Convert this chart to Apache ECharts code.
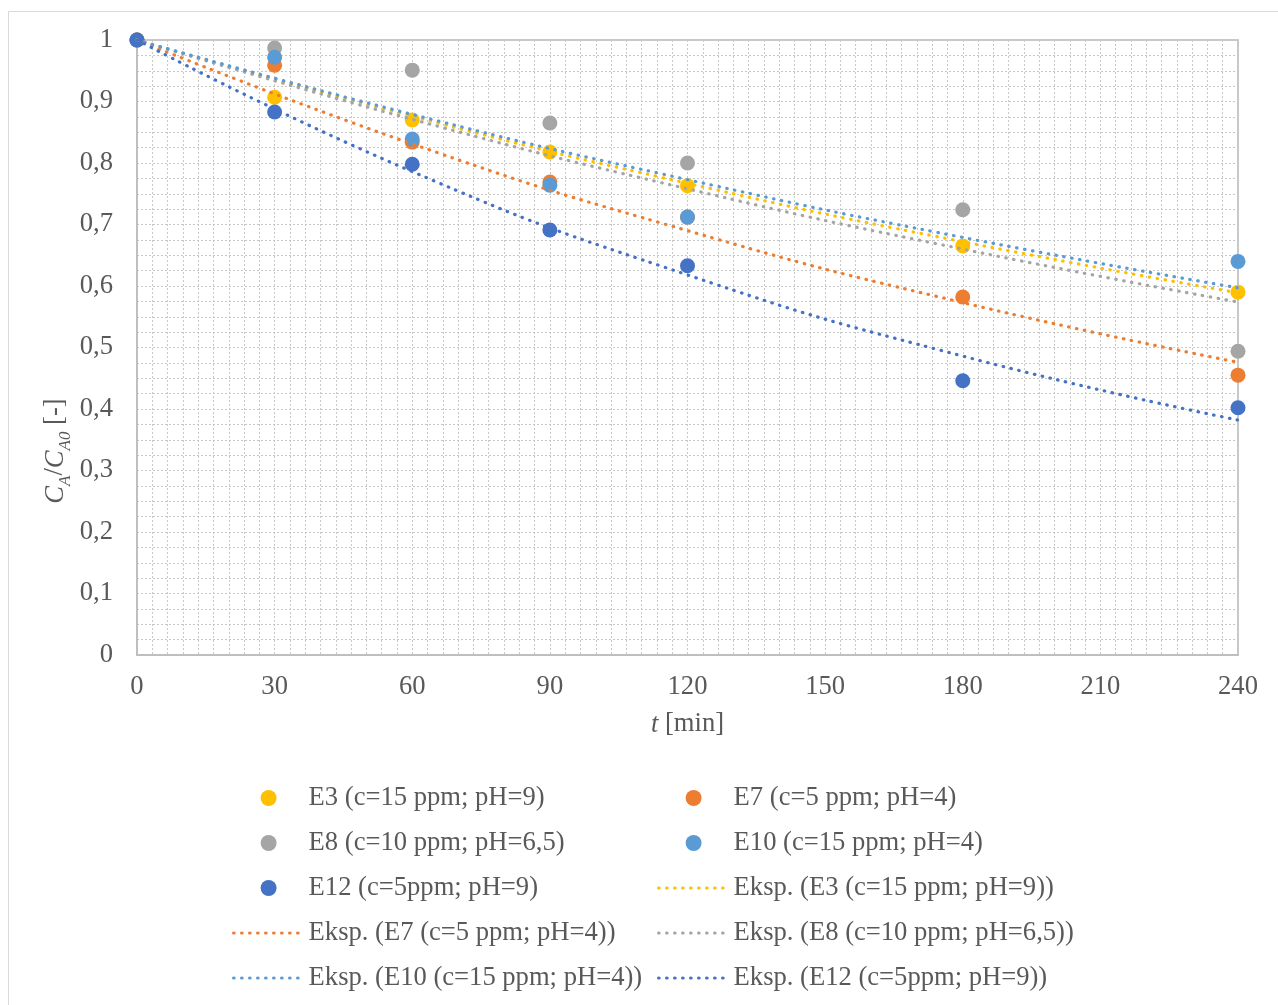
<!DOCTYPE html>
<html>
<head>
<meta charset="utf-8">
<script src="https://cdn.jsdelivr.net/npm/echarts@6/dist/echarts.min.js"></script>
<style>
html,body{margin:0;padding:0;background:#fff;}
#chart{width:1278px;height:1005px;}
</style>
</head>
<body>
<div id="chart"></div>
<script>
// ---- data ----
const times = [0, 30, 60, 90, 120, 180, 240];
const E3  = [1, 0.907, 0.870, 0.818, 0.763, 0.665, 0.590];
const E7  = [1, 0.959, 0.834, 0.769, 0.712, 0.582, 0.455];
const E8  = [1, 0.987, 0.951, 0.865, 0.800, 0.724, 0.494];
const E10 = [1, 0.972, 0.839, 0.764, 0.712, null, 0.640];
const E12 = [1, 0.883, 0.798, 0.691, 0.633, 0.446, 0.402];

// exponential trend lines
const trendT   = [0, 60, 120, 180, 240];
const trendE3  = [1, 0.876, 0.767, 0.672, 0.589];
const trendE7  = [1, 0.831, 0.690, 0.573, 0.476];
const trendE8  = [1, 0.871, 0.758, 0.660, 0.574];
const trendE10 = [1, 0.879, 0.773, 0.679, 0.597];
const trendE12 = [1, 0.786, 0.618, 0.486, 0.382];

const xTickLabels = ['0','30','60','90','120','150','180','210','240'];
const yTickLabels = ['0','0,1','0,2','0,3','0,4','0,5','0,6','0,7','0,8','0,9','1'];

const names = {
  E3: 'E3 (c=15 ppm; pH=9)',
  E7: 'E7 (c=5 ppm; pH=4)',
  E8: 'E8 (c=10 ppm; pH=6,5)',
  E10: 'E10 (c=15 ppm; pH=4)',
  E12: 'E12 (c=5ppm; pH=9)'
};
const colors = {E3:'#FFC000', E7:'#ED7D31', E8:'#A5A5A5', E10:'#5B9BD5', E12:'#4472C4'};

const pair = (xs, ys) => xs.map((x, i) => [x, ys[i]]).filter(p => p[1] !== null);
const tname = k => 'Eksp. (' + names[k] + ')';

const FONT = '"Liberation Serif", "Times New Roman", serif';
const FS = 26.6;
const TXT = '#595959';
const GRIDC = '#c8c8c8';

function scatter(key, vals) {
  return {
    name: names[key], type: 'scatter', data: pair(times, vals),
    symbol: 'circle', symbolSize: 15,
    itemStyle: {color: colors[key], opacity: 1},
    z: 2
  };
}
function trend(key, vals) {
  return {
    name: tname(key), type: 'line', data: pair(trendT, vals),
    smooth: true, symbol: 'none', showSymbol: false,
    lineStyle: {color: colors[key], width: 3.2, type: [0.5, 7.5], cap: 'round'},
    itemStyle: {color: colors[key]},
    z: 3
  };
}
const scItem = k => ({name: names[k]});
const lnItem = k => ({name: tname(k), itemStyle: {color: 'rgba(0,0,0,0)', borderWidth: 0, opacity: 0},
  lineStyle: {color: colors[k], width: 3.2, type: [0.5, 7.5], cap: 'round'}});

const legendCommon = {
  orient: 'vertical', itemWidth: 70, itemHeight: 16, itemGap: 15, padding: 0,
  textStyle: {fontFamily: FONT, fontSize: FS, color: TXT, lineHeight: 30},
  selectedMode: false
};

const chart = echarts.init(document.getElementById('chart'), null, {renderer: 'canvas'});
chart.setOption({
  backgroundColor: '#fff',
  animation: false,
  graphic: [
    {type: 'rect', shape: {x: 8.5, y: 11.5, width: 1300, height: 1100},
     style: {fill: 'none', stroke: '#d9d9d9', lineWidth: 1}, z: -10, silent: true},
    {type: 'text', x: 54, y: 451, rotation: Math.PI / 2,
     style: {
       text: '{i|C}{s|A}{n|/}{i|C}{s|A0}{n| [-]}',
       align: 'center', verticalAlign: 'middle',
       rich: {
         i: {fontFamily: FONT, fontSize: FS, fontStyle: 'italic', fill: TXT, lineHeight: 30, verticalAlign: 'bottom'},
         n: {fontFamily: FONT, fontSize: FS, fill: TXT, lineHeight: 30, verticalAlign: 'bottom'},
         s: {fontFamily: FONT, fontSize: 17, fontStyle: 'italic', fill: TXT, lineHeight: 18, verticalAlign: 'bottom', padding: [0, 0, -5, 0]}
       }
     }, z: 10}
  ],
  grid: {left: 137, right: 40, top: 40, bottom: 350, show: true, borderColor: '#c8c8c8', borderWidth: 2, backgroundColor: 'transparent'},
  legend: [
    Object.assign({left: 232, top: 783, data: [scItem('E3'), scItem('E8'), scItem('E12'), lnItem('E7'), lnItem('E10')]}, legendCommon),
    Object.assign({left: 657, top: 783, data: [scItem('E7'), scItem('E10'), lnItem('E3'), lnItem('E8'), lnItem('E12')]}, legendCommon)
  ],
  xAxis: {
    type: 'value', min: 0, max: 240, interval: 30,
    name: '{i|t} [min]', nameLocation: 'middle', nameGap: 56,
    nameTextStyle: {fontFamily: FONT, fontSize: FS, color: TXT,
      rich: {i: {fontFamily: FONT, fontSize: FS, fontStyle: 'italic', color: TXT}}},
    axisLine: {show: true, lineStyle: {color: '#bfbfbf', width: 2}},
    axisTick: {show: false},
    axisLabel: {fontFamily: FONT, fontSize: FS, color: TXT, margin: 19,
      formatter: v => xTickLabels[Math.round(v / 30)]},
    splitLine: {show: true, lineStyle: {color: GRIDC, width: 1, type: [2, 2]}},
    minorTick: {show: false, splitNumber: 9},
    minorSplitLine: {show: true, lineStyle: {color: GRIDC, width: 1, type: [2, 2]}}
  },
  yAxis: {
    type: 'value', min: 0, max: 1, interval: 0.1,
    axisLine: {show: true, lineStyle: {color: '#bfbfbf', width: 2}},
    axisTick: {show: false},
    axisLabel: {fontFamily: FONT, fontSize: FS, color: TXT, margin: 24,
      formatter: v => yTickLabels[Math.round(v * 10)]},
    splitLine: {show: true, lineStyle: {color: GRIDC, width: 1, type: [2, 2]}},
    minorTick: {show: false, splitNumber: 4},
    minorSplitLine: {show: true, lineStyle: {color: GRIDC, width: 1, type: [2, 2]}}
  },
  series: [
    scatter('E3', E3), scatter('E7', E7), scatter('E8', E8), scatter('E10', E10), scatter('E12', E12),
    trend('E3', trendE3), trend('E7', trendE7), trend('E8', trendE8), trend('E10', trendE10), trend('E12', trendE12)
  ]
});
</script>
</body>
</html>
